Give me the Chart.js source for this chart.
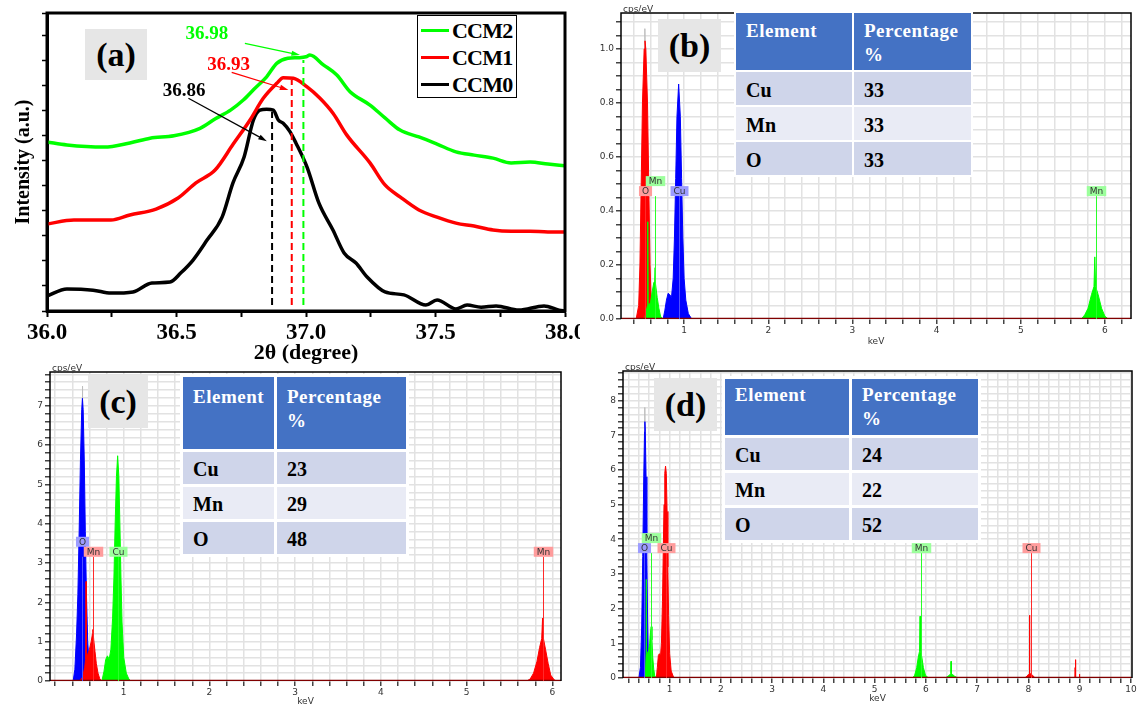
<!DOCTYPE html>
<html>
<head>
<meta charset="utf-8">
<script src="https://cdn.jsdelivr.net/npm/chart.js@4.4.1/dist/chart.umd.min.js"></script>
<style>
  body { margin: 0; width: 1141px; height: 710px; position: relative; overflow: hidden; background: #fff; }
  canvas, .tag, .legend, table.comp { position: absolute; }
  .tag { background: #e6e6e6; font: bold 34px 'Liberation Serif', 'Times New Roman', serif; display: flex; align-items: center; justify-content: center; color: #000; }
  .legend { left: 417px; top: 15px; width: 100px; height: 83px; border: 1px solid #000; background: #fff; font: bold 22px 'Liberation Serif', 'Times New Roman', serif; letter-spacing: -0.8px; padding-top: 1px; box-sizing: border-box; }
  .legend div { height: 27px; display: flex; align-items: center; }
  .legend i { display: inline-block; width: 28px; height: 3px; margin: 0 3px 0 3px; }
  table.comp { border-collapse: separate; table-layout: fixed; background: #fff; font-family: 'Liberation Serif', 'Times New Roman', serif; font-weight: bold; }
  table.comp td { padding: 0 0 0 10px; box-sizing: border-box; overflow: hidden; white-space: nowrap; font-size: 20px; line-height: 20px; vertical-align: middle; color: #000; }
  table.comp td.h { background: #4472c4; color: #fff; font-size: 19px; line-height: 24px; letter-spacing: 0.5px; vertical-align: top; }
</style>
</head>
<body>
<canvas id="xrd" width="580" height="370" style="left:0;top:0"></canvas>
<canvas id="edsB" width="541" height="350" style="left:600px;top:0"></canvas>
<canvas id="edsC" width="570" height="350" style="left:0;top:360px"></canvas>
<canvas id="edsD" width="551" height="350" style="left:590px;top:360px"></canvas>

<script>
// ---------- (a) XRD, 2θ (degree) vs intensity (a.u.) ----------
const ccm2Theta = [36.000, 36.077, 36.220, 36.320, 36.398, 36.490, 36.591, 36.650, 36.710, 36.758, 36.800, 36.848, 36.887, 36.930, 36.970, 37.000, 37.015, 37.067, 37.119, 37.170, 37.247, 37.305, 37.363, 37.436, 37.506, 37.579, 37.649, 37.722, 37.792, 37.865, 37.934, 38.000];
const ccm2Int = [56.7, 55.7, 55.0, 56.4, 58.0, 58.8, 61.3, 64.5, 67.5, 70.8, 74.5, 78.6, 83.1, 84.8, 85.0, 85.3, 85.9, 82.6, 79.2, 73.6, 69.1, 64.8, 60.7, 58.4, 56.0, 53.4, 52.3, 51.3, 49.7, 50.0, 49.3, 48.7];
const ccm1Theta = [36.000, 36.104, 36.247, 36.320, 36.421, 36.506, 36.575, 36.649, 36.719, 36.784, 36.835, 36.887, 36.912, 36.951, 37.003, 37.054, 37.105, 37.157, 37.247, 37.305, 37.363, 37.436, 37.506, 37.579, 37.649, 37.722, 37.792, 37.865, 37.934, 38.000];
const ccm1Int = [29.2, 30.5, 30.5, 32.2, 34.2, 37.9, 43.0, 47.3, 56.0, 64.1, 71.4, 76.4, 78.3, 78.1, 75.3, 71.4, 66.3, 59.1, 49.7, 42.3, 38.3, 33.9, 31.5, 29.5, 28.5, 27.2, 26.8, 26.8, 26.5, 26.5];
const ccm0Theta = [36.000, 36.077, 36.178, 36.247, 36.332, 36.405, 36.475, 36.517, 36.564, 36.618, 36.676, 36.718, 36.761, 36.797, 36.822, 36.848, 36.874, 36.893, 36.912, 36.938, 36.961, 37.004, 37.050, 37.104, 37.147, 37.193, 37.236, 37.305, 37.378, 37.463, 37.506, 37.579, 37.622, 37.676, 37.734, 37.822, 37.919, 37.977, 38.000];
const ccm0Int = [5.0, 7.4, 7.0, 6.0, 6.4, 9.4, 9.7, 12.8, 17.1, 23.8, 31.5, 43.0, 51.7, 64.1, 67.4, 67.7, 67.4, 64.1, 63.0, 60.2, 56.4, 48.3, 36.2, 27.2, 19.5, 16.1, 11.4, 6.4, 5.4, 2.0, 3.7, 0.7, 2.0, 1.3, 1.7, 0.3, 1.7, 0.3, 0];

const sampleNames = ['CCM2', 'CCM1', 'CCM0'];
const sampleColors = ['#00ff00', '#ff0000', '#000000'];
const peakText = ['36.98', '36.93', '36.86'];
// dashed peak markers and annotation arrows (data units)
const dashX = [36.990, 36.945, 36.869];
const dashTop = [84.2, 77.5, 66.9];
const dashBottom = 2.0;
const noteAt = [[36.617, 93.0], [36.701, 82.5], [36.529, 73.7]];
const arrowFrom = [[36.764, 89.8], [36.713, 80.1], [36.546, 71.4]];
const arrowTo = [[36.977, 85.9], [36.932, 74.2], [36.849, 57.0]];

// ---------- EDS spectra: [keV, cps/eV] ----------
// (b)
const bO = [[0.43, 0], [0.46, 0.05], [0.475, 0.2], [0.49, 0.5], [0.505, 0.8], [0.525, 1.0], [0.535, 1.03], [0.545, 1.0], [0.565, 0.8], [0.58, 0.5], [0.595, 0.2], [0.61, 0.06], [0.64, 0]];
const bOTop = [[0.528, 0], [0.532, 1.0], [0.535, 1.075], [0.538, 1.0], [0.542, 0]];
const bMnL = [[0.53, 0], [0.55, 0.03], [0.565, 0.05], [0.568, 0.36], [0.572, 0.05], [0.6, 0.06], [0.62, 0.1], [0.64, 0.135], [0.65, 0.14], [0.655, 0.19], [0.66, 0.13], [0.68, 0.08], [0.7, 0.04], [0.72, 0.01], [0.75, 0]];
const bCuL = [[0.75, 0], [0.77, 0.03], [0.79, 0.07], [0.81, 0.095], [0.83, 0.09], [0.85, 0.08], [0.87, 0.15], [0.885, 0.3], [0.9, 0.52], [0.915, 0.75], [0.935, 0.87], [0.955, 0.75], [0.97, 0.52], [0.985, 0.3], [1.0, 0.15], [1.02, 0.07], [1.05, 0.02], [1.09, 0]];
const bMnK = [[5.72, 0], [5.76, 0.015], [5.8, 0.04], [5.84, 0.09], [5.87, 0.12], [5.88, 0.23], [5.89, 0.12], [5.92, 0.09], [5.96, 0.04], [6.0, 0.01], [6.04, 0]];
const bTagEl = ['O', 'Mn', 'Cu', 'Mn'];
const bTagKeV = [0.53, 0.65, 0.945, 5.89];
const bTagCol = ['r', 'g', 'b', 'g'];
const bTagRow = [0, 1, 0, 0];
// (c)
const cO = [[0.41, 0], [0.43, 0.3], [0.45, 1.2], [0.465, 2.2], [0.48, 3.8], [0.495, 5.6], [0.51, 6.9], [0.518, 7.19], [0.527, 6.9], [0.54, 5.6], [0.552, 3.8], [0.565, 2.2], [0.58, 1.0], [0.6, 0.3], [0.62, 0]];
const cOTop = [[0.511, 0], [0.515, 6.9], [0.518, 7.5], [0.521, 6.9], [0.525, 0]];
const cMnL = [[0.49, 0], [0.52, 0.1], [0.545, 0.35], [0.555, 0.55], [0.56, 2.53], [0.565, 0.6], [0.58, 0.68], [0.6, 0.8], [0.62, 1.0], [0.635, 1.2], [0.64, 1.31], [0.65, 1.05], [0.665, 0.75], [0.68, 0.45], [0.7, 0.2], [0.72, 0.06], [0.74, 0]];
const cCuL = [[0.745, 0], [0.77, 0.25], [0.79, 0.55], [0.81, 0.64], [0.83, 0.55], [0.85, 0.8], [0.87, 1.6], [0.885, 2.6], [0.9, 4.0], [0.915, 5.2], [0.929, 5.73], [0.943, 5.2], [0.955, 4.0], [0.968, 2.6], [0.98, 1.5], [1.0, 0.6], [1.03, 0.2], [1.06, 0.05], [1.085, 0]];
const cMnK = [[5.7, 0], [5.74, 0.05], [5.78, 0.2], [5.82, 0.5], [5.85, 0.85], [5.875, 1.08], [5.885, 1.6], [5.895, 1.08], [5.92, 0.8], [5.95, 0.45], [5.98, 0.15], [6.02, 0.03], [6.05, 0]];
const cTagEl = ['O', 'Mn', 'Cu', 'Mn'];
const cTagKeV = [0.515, 0.64, 0.93, 5.89];
const cTagCol = ['b', 'r', 'g', 'r'];
const cTagRow = [1, 0, 0, 0];
// (d)
const dO = [[0.4, 0], [0.43, 0.3], [0.455, 1.5], [0.475, 3.5], [0.495, 5.8], [0.51, 7.1], [0.517, 7.39], [0.525, 7.1], [0.54, 5.8], [0.555, 3.6], [0.57, 1.7], [0.585, 0.5], [0.605, 0]];
const dOTop = [[0.511, 0], [0.514, 7.1], [0.517, 7.8], [0.52, 7.1], [0.523, 0]];
const dMnL = [[0.5, 0], [0.53, 0.2], [0.54, 0.7], [0.543, 2.84], [0.547, 0.7], [0.57, 0.72], [0.59, 0.8], [0.61, 1.0], [0.625, 1.3], [0.64, 1.48], [0.655, 1.1], [0.67, 0.6], [0.69, 0.25], [0.71, 0.06], [0.74, 0]];
const dCuL = [[0.74, 0], [0.76, 0.3], [0.78, 0.65], [0.8, 0.7], [0.82, 0.6], [0.84, 1.0], [0.86, 2.2], [0.875, 3.6], [0.89, 5.0], [0.905, 5.9], [0.92, 6.11], [0.935, 5.9], [0.95, 4.8], [0.965, 3.2], [0.98, 1.8], [1.0, 0.7], [1.03, 0.2], [1.07, 0.05], [1.1, 0]];
const dMnK = [[5.74, 0], [5.78, 0.08], [5.82, 0.3], [5.85, 0.6], [5.875, 0.77], [5.885, 1.78], [5.895, 0.77], [5.92, 0.6], [5.95, 0.3], [5.99, 0.08], [6.05, 0]];
const dMnKb = [[6.38, 0], [6.43, 0.05], [6.47, 0.1], [6.485, 0.12], [6.49, 0.48], [6.495, 0.12], [6.52, 0.1], [6.56, 0.05], [6.62, 0]];
const dCuK = [[7.93, 0], [7.97, 0.06], [8.0, 0.1], [8.015, 0.12], [8.02, 1.81], [8.027, 0.12], [8.05, 0.12], [8.08, 0.08], [8.13, 0]];
const dCuKb = [[8.89, 0], [8.905, 0.03], [8.91, 0.3], [8.915, 0.03], [8.92, 0.53], [8.925, 0.03], [8.95, 0], [8.99, 0], [8.995, 0.11], [9.0, 0]];
const dTagEl = ['O', 'Mn', 'Cu', 'Mn', 'Cu'];
const dTagKeV = [0.505, 0.645, 0.93, 5.9, 8.05];
const dTagCol = ['b', 'g', 'r', 'g', 'r'];
const dTagRow = [0, 1, 0, 0, 0];

// composition tables
const elements = ['Cu', 'Mn', 'O'];
const pctB = [33, 33, 33];
const pctC = [23, 29, 48];
const pctD = [24, 22, 52];

const serif = "'Liberation Serif', 'Times New Roman', serif";
const sans = "'DejaVu Sans', Verdana, sans-serif";
const pairs = arr => arr.map(([x, y]) => ({x, y}));
const zip = (xs, ys) => xs.map((x, i) => ({x, y: ys[i]}));

function drawArrow(ctx, x0, y0, x1, y1, color) {
  const ang = Math.atan2(y1 - y0, x1 - x0);
  const head = 9;
  ctx.strokeStyle = color; ctx.fillStyle = color; ctx.lineWidth = 1.3;
  ctx.beginPath(); ctx.moveTo(x0, y0);
  ctx.lineTo(x1 - Math.cos(ang) * head * 0.8, y1 - Math.sin(ang) * head * 0.8); ctx.stroke();
  ctx.beginPath(); ctx.moveTo(x1, y1);
  ctx.lineTo(x1 - head * Math.cos(ang - 0.3), y1 - head * Math.sin(ang - 0.3));
  ctx.lineTo(x1 - head * Math.cos(ang + 0.3), y1 - head * Math.sin(ang + 0.3));
  ctx.closePath(); ctx.fill();
}

// рамка, подписи пиков и стрелки для XRD
const xrdDecor = {
  id: 'xrdDecor',
  afterDatasetsDraw(chart) {
    const {ctx, chartArea: a, scales: {x, y}} = chart;
    ctx.save();
    ctx.strokeStyle = '#000'; ctx.lineWidth = 3;
    ctx.strokeRect(a.left, a.top, a.right - a.left, a.bottom - a.top);
    ctx.font = 'bold 19px ' + serif;
    ctx.textAlign = 'center'; ctx.textBaseline = 'middle';
    peakText.forEach((t, i) => {
      ctx.fillStyle = sampleColors[i];
      ctx.fillText(t, x.getPixelForValue(noteAt[i][0]), y.getPixelForValue(noteAt[i][1]));
      drawArrow(ctx,
        x.getPixelForValue(arrowFrom[i][0]), y.getPixelForValue(arrowFrom[i][1]),
        x.getPixelForValue(arrowTo[i][0]), y.getPixelForValue(arrowTo[i][1]), sampleColors[i]);
    });
    ctx.restore();
  }
};

new Chart(document.getElementById('xrd'), {
  type: 'line',
  data: {
    datasets: [
      ...dashX.map((d, i) => ({
        data: [{x: d, y: dashBottom}, {x: d, y: dashTop[i]}],
        borderColor: sampleColors[i], borderWidth: 2, borderDash: [7, 4], pointRadius: 0
      })),
      ...[zip(ccm2Theta, ccm2Int), zip(ccm1Theta, ccm1Int), zip(ccm0Theta, ccm0Int)].map((d, i) => ({
        label: sampleNames[i], data: d, borderColor: sampleColors[i], borderWidth: 3.5,
        pointRadius: 0, cubicInterpolationMode: 'monotone'
      }))
    ]
  },
  options: {
    responsive: false, animation: false, devicePixelRatio: 1,
    layout: {padding: {top: 13, right: 15, left: 0, bottom: 0}},
    plugins: {legend: {display: false}, tooltip: {enabled: false}},
    scales: {
      x: {
        type: 'linear', min: 36, max: 38,
        ticks: {
          stepSize: 0.25, autoSkip: false, maxRotation: 0, padding: 2, color: '#000',
          font: {family: serif, size: 23, weight: 'bold'},
          callback: v => Math.abs(v * 2 - Math.round(v * 2)) < 1e-6 ? v.toFixed(1) : ''
        },
        grid: {drawOnChartArea: false, tickLength: 6, tickColor: '#000', tickWidth: 2},
        border: {color: '#000', width: 3},
        title: {display: true, text: '2θ (degree)', color: '#000', font: {family: serif, size: 22, weight: 'bold'}, padding: {top: 0, bottom: 3}},
        afterFit: s => { s.height = 59; s.paddingLeft = 0; s.paddingRight = 0; }
      },
      y: {
        min: 0, max: 100,
        ticks: {display: false, stepSize: 8.4},
        grid: {drawOnChartArea: false, tickLength: 5, tickColor: '#000', tickWidth: 1.5},
        border: {color: '#000', width: 3},
        title: {display: true, text: 'Intensity (a.u.)', color: '#000', font: {family: serif, size: 20, weight: 'bold'}, padding: {top: 12, bottom: 0}},
        afterFit: s => { s.width = 47; s.paddingTop = 0; s.paddingBottom = 0; }
      }
    }
  },
  plugins: [xrdDecor]
});

// ---------- EDS ----------
const fillCol = {r: '#ff0000', g: '#00ff00', b: '#0000ff', k: '#bdbdbd'};
const tagBg = {r: '#ff9c9c', g: '#9cff9c', b: '#9c9cff'};
const tagLine = {r: '#ff2a2a', g: '#2aff2a', b: '#5050ff'};

function spectrum(id, cfg) {
  const canvas = document.getElementById(id);
  const H = canvas.height, W = canvas.width;
  const isMajor = v => Math.abs(v / cfg.yMajor - Math.round(v / cfg.yMajor)) < 1e-6;
  const peakSets = cfg.peaks.map(([pts, c]) => ({
    data: pairs(pts), borderColor: fillCol[c], backgroundColor: fillCol[c],
    borderWidth: 1, fill: 'origin', pointRadius: 0, tension: 0
  }));
  const decor = {
    id: 'edsDecor',
    afterDatasetsDraw(chart) {
      const {ctx, chartArea: a, scales: {x, y}} = chart;
      ctx.save();
      ctx.strokeStyle = '#000'; ctx.lineWidth = 1.5;
      ctx.beginPath();
      ctx.moveTo(a.left, a.bottom); ctx.lineTo(a.left, a.top);
      ctx.lineTo(a.right, a.top); ctx.lineTo(a.right, a.bottom); ctx.stroke();
      ctx.font = '9px ' + sans; ctx.fillStyle = '#333';
      ctx.textAlign = 'left'; ctx.textBaseline = 'alphabetic';
      ctx.fillText('cps/eV', a.left + 2, a.top - 1);
      const yb = y.getPixelForValue(cfg.tagLevel);
      const y0 = y.getPixelForValue(0);
      cfg.tagEl.forEach((el, i) => {
        const px = Math.round(x.getPixelForValue(cfg.tagKeV[i])) + 0.5;
        const c = cfg.tagCol[i];
        ctx.strokeStyle = tagLine[c]; ctx.lineWidth = 1;
        ctx.beginPath(); ctx.moveTo(px, y0); ctx.lineTo(px, yb); ctx.stroke();
        const bottom = yb - cfg.tagRow[i] * 10;
        const w = ctx.measureText(el).width + 6;
        ctx.fillStyle = tagBg[c];
        ctx.fillRect(px - w / 2, bottom - 10, w, 10);
        ctx.fillStyle = '#333'; ctx.textAlign = 'center'; ctx.textBaseline = 'middle';
        ctx.fillText(el, px, bottom - 4.5);
      });
      ctx.restore();
    }
  };
  new Chart(canvas, {
    type: 'line',
    data: {
      datasets: [
        {data: [{x: cfg.xMin, y: 0}, {x: cfg.xMax, y: 0}], borderColor: '#800000', borderWidth: 2.5, pointRadius: 0},
        ...peakSets
      ]
    },
    options: {
      responsive: false, animation: false, devicePixelRatio: 1,
      layout: {padding: {top: cfg.area.top, right: W - cfg.area.right, left: 0, bottom: 0}},
      plugins: {legend: {display: false}, tooltip: {enabled: false}},
      scales: {
        x: {
          type: 'linear', min: cfg.xMin, max: cfg.xMax,
          ticks: {
            stepSize: 0.2, includeBounds: false, autoSkip: false, maxRotation: 0, padding: 1,
            color: '#333', font: {family: sans, size: 9},
            callback: v => Math.abs(v - Math.round(v)) < 1e-6 ? String(Math.round(v)) : ''
          },
          grid: {color: '#e2e2e2', lineWidth: 1.5, tickLength: 5, tickColor: '#444'},
          border: {display: false},
          title: {display: true, text: 'keV', color: '#333', font: {family: sans, size: 9}, padding: {top: 0, bottom: cfg.kevPad}},
          afterFit: s => { s.height = H - cfg.area.bottom; s.paddingLeft = 0; s.paddingRight = 0; }
        },
        y: {
          min: 0, max: cfg.yMax,
          ticks: {
            stepSize: cfg.yMinor, includeBounds: false, autoSkip: false, padding: 2,
            color: '#333', font: {family: sans, size: 9},
            callback: v => isMajor(v) ? v.toFixed(cfg.yDec) : ''
          },
          grid: {color: '#e2e2e2', lineWidth: 1.5, tickLength: 5, tickColor: '#444'},
          border: {display: false},
          afterFit: s => { s.width = cfg.area.left; s.paddingTop = 0; s.paddingBottom = 0; }
        }
      }
    },
    plugins: [decor]
  });
}

spectrum('edsB', {
  area: {left: 21, top: 13, right: 531, bottom: 319},
  xMin: 0.25, xMax: 6.31, yMax: 1.133, yMinor: 0.05, yMajor: 0.2, yDec: 1, kevPad: 2.6,
  peaks: [[bMnL, 'g'], [bO, 'r'], [bOTop, 'k'], [bCuL, 'b'], [bMnK, 'g']],
  tagEl: bTagEl, tagKeV: bTagKeV, tagCol: bTagCol, tagRow: bTagRow, tagLevel: 0.455
});
spectrum('edsC', {
  area: {left: 50, top: 12, right: 561, bottom: 321},
  xMin: 0.14, xMax: 6.10, yMax: 7.86, yMinor: 0.2, yMajor: 1, yDec: 0, kevPad: 2.6,
  peaks: [[cMnL, 'r'], [cO, 'b'], [cOTop, 'k'], [cCuL, 'g'], [cMnK, 'r']],
  tagEl: cTagEl, tagKeV: cTagKeV, tagCol: cTagCol, tagRow: cTagRow, tagLevel: 3.16
});
spectrum('edsD', {
  area: {left: 33, top: 11, right: 542, bottom: 318},
  xMin: 0.09, xMax: 10.02, yMax: 8.85, yMinor: 0.2, yMajor: 1, yDec: 0, kevPad: 5.6,
  peaks: [[dMnL, 'g'], [dO, 'b'], [dOTop, 'k'], [dCuL, 'r'], [dMnK, 'g'], [dMnKb, 'g'], [dCuK, 'r'], [dCuKb, 'r']],
  tagEl: dTagEl, tagKeV: dTagKeV, tagCol: dTagCol, tagRow: dTagRow, tagLevel: 3.6
});

// ---------- overlays: panel tags, legend, tables ----------
function addTag(text, left, top, w, h) {
  const d = document.createElement('div');
  d.className = 'tag'; d.textContent = text;
  Object.assign(d.style, {left: left + 'px', top: top + 'px', width: w + 'px', height: h + 'px'});
  document.body.appendChild(d);
}
addTag('(a)', 85, 29, 62, 51);
addTag('(b)', 658, 19, 63, 53);
addTag('(c)', 88, 375, 60, 53);
addTag('(d)', 654, 378, 63, 53);

const legend = document.createElement('div');
legend.className = 'legend';
legend.innerHTML = sampleNames.map((n, i) => `<div><i style="background:${sampleColors[i]}"></i>${n}</div>`).join('');
document.body.appendChild(legend);

function addTable(box, pct) {
  const t = document.createElement('table');
  t.className = 'comp';
  Object.assign(t.style, {
    left: (box.left - box.gap) + 'px', top: (box.top - box.gap) + 'px',
    borderSpacing: box.gap + 'px', width: (box.colW[0] + box.colW[1] + 3 * box.gap) + 'px'
  });
  let html = `<tr style="height:${box.headH}px">` +
    `<td class="h" style="width:${box.colW[0]}px;padding-top:${box.headPad}px">Element</td>` +
    `<td class="h" style="width:${box.colW[1]}px;padding-top:${box.headPad}px">Percentage<br>%</td></tr>`;
  elements.forEach((el, i) => {
    const bg = i % 2 ? '#e9ebf5' : '#cfd5ea';
    html += `<tr style="height:${box.rowH}px"><td style="background:${bg};padding-top:2px">${el}</td><td style="background:${bg};padding-top:2px">${pct[i]}</td></tr>`;
  });
  t.innerHTML = html;
  document.body.appendChild(t);
}
addTable({left: 736, top: 13, colW: [116, 117], headH: 57, rowH: 33, gap: 2, headPad: 6}, pctB);
addTable({left: 183, top: 377, colW: [91, 129], headH: 72, rowH: 32, gap: 3, headPad: 8}, pctC);
addTable({left: 725, top: 379, colW: [124, 126], headH: 56, rowH: 32, gap: 3, headPad: 4}, pctD);
</script>
</body>
</html>
